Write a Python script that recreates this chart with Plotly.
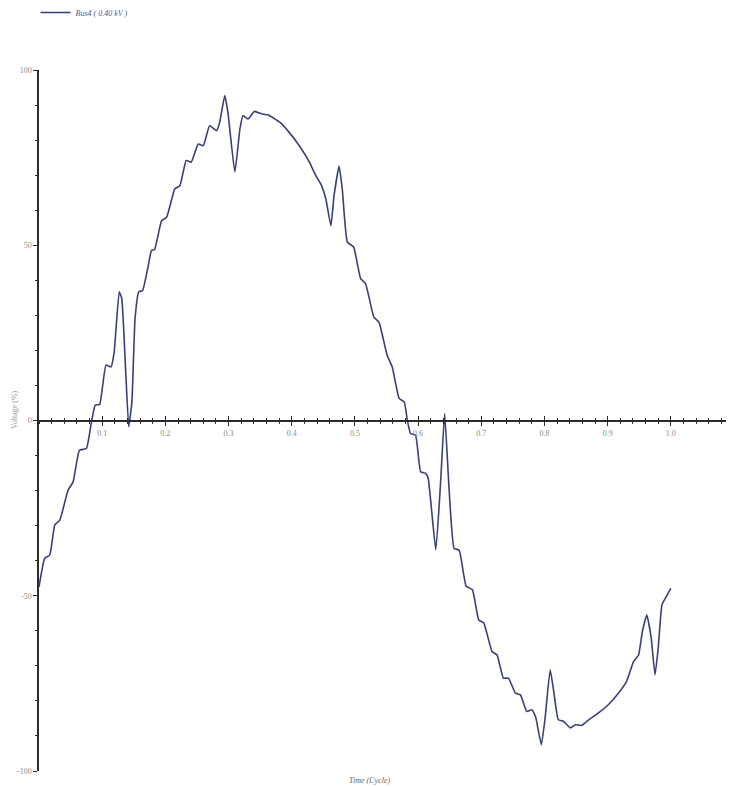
import plotly.graph_objects as go

# Waveform samples (time in cycles, voltage in %)
time_cycle = [0.000, 0.009, 0.017, 0.025, 0.033, 0.046, 0.054, 0.064, 0.075, 0.083,
              0.089, 0.096, 0.106, 0.114, 0.119, 0.127, 0.131, 0.137, 0.142, 0.147,
              0.152, 0.158, 0.164, 0.172, 0.178, 0.183, 0.194, 0.202, 0.215, 0.223,
              0.233, 0.241, 0.252, 0.260, 0.270, 0.281, 0.286, 0.294, 0.299, 0.310,
              0.318, 0.323, 0.331, 0.341, 0.352, 0.362, 0.381, 0.396, 0.412, 0.428,
              0.438, 0.446, 0.454, 0.462, 0.467, 0.475, 0.480, 0.488, 0.498, 0.509,
              0.517, 0.530, 0.538, 0.551, 0.559, 0.570, 0.578, 0.583, 0.588, 0.596,
              0.604, 0.612, 0.616, 0.628, 0.636, 0.642, 0.649, 0.657, 0.665, 0.676,
              0.686, 0.696, 0.704, 0.717, 0.725, 0.735, 0.743, 0.754, 0.762, 0.772,
              0.780, 0.786, 0.795, 0.801, 0.809, 0.814, 0.822, 0.830, 0.841, 0.849,
              0.859, 0.870, 0.885, 0.901, 0.917, 0.930, 0.941, 0.949, 0.955, 0.962,
              0.969, 0.975, 0.980, 0.986, 0.993, 1.000]
voltage_pct = [-47.5, -39.3, -38.4, -29.8, -28.4, -19.9, -17.5, -8.5, -8.0, -0.4,
               4.4, 4.6, 15.8, 15.3, 19.6, 36.7, 34.8, 14.8, -1.8, 5.3,
               29.0, 36.7, 37.1, 43.3, 48.5, 48.8, 57.0, 58.0, 66.1, 67.0,
               74.2, 73.7, 78.9, 78.4, 84.1, 82.7, 85.1, 92.7, 87.9, 70.9,
               83.2, 87.0, 86.0, 88.2, 87.5, 87.2, 85.1, 82.2, 78.4, 73.7,
               69.9, 67.5, 63.2, 55.6, 64.2, 72.6, 66.1, 50.9, 49.5, 40.5,
               39.0, 29.5, 28.1, 18.6, 15.3, 6.3, 5.3, 0.1, -3.7, -4.2,
               -14.6, -15.1, -16.5, -36.9, -16.5, 2.0, -19.4, -36.5, -37.0, -47.2,
               -48.3, -56.9, -57.8, -65.9, -66.9, -73.5, -73.5, -77.8, -78.3, -83.0,
               -82.5, -84.5, -92.5, -84.9, -71.1, -76.4, -85.4, -85.8, -87.7, -86.8,
               -87.0, -85.4, -83.5, -81.1, -77.8, -74.4, -68.8, -66.9, -60.2, -55.5,
               -62.1, -72.6, -65.0, -52.6, -50.2, -47.9]

x_tick_vals = [0.1, 0.2, 0.3, 0.4, 0.5, 0.6, 0.7, 0.8, 0.9, 1.0, 1.1]
x_tick_text = ["0.1", "0.2", "0.3", "0.4", "0.5", "0.6", "0.7", "0.8", "0.9", "1.0", "1.1"]
y_tick_vals = [-100, -50, 0, 50, 100]
y_tick_text = ["-100", "-50", "0", "50", "100"]

series_name = "Bus4 ( 0.40 kV )"
line_color = "#3b3f78"
axis_color = "#2b2b2b"
label_color = "#8a8a8a"
font_family = "Liberation Serif"

fig = go.Figure()
fig.add_trace(go.Scatter(
    x=time_cycle, y=voltage_pct, mode="lines", name=series_name,
    line=dict(color=line_color, width=1.6, shape="spline", smoothing=0.4),
    showlegend=True,
))
# invisible helper trace on overlaying axis so the second tick set is drawn
fig.add_trace(go.Scatter(x=[0], y=[0], xaxis="x2", mode="markers",
                         marker=dict(opacity=0), showlegend=False, hoverinfo="skip"))

# the page body has an 8px margin, so the figure is sized/offset to compensate
fig.update_layout(
    width=726, height=779,
    margin=dict(l=31, r=0, t=62, b=16, autoexpand=False),
    paper_bgcolor="white", plot_bgcolor="white",
    font=dict(family=font_family, size=8, color=label_color),
    showlegend=True,
    legend=dict(x=-0.005, y=1.082, xanchor="left", yanchor="middle",
                font=dict(family=font_family, size=8, color="#4a5aa0", style="italic"),
                bgcolor="rgba(0,0,0,0)", itemwidth=30),
    xaxis=dict(
        range=[0, 1.1], anchor="free", position=0.5, automargin=False,
        showgrid=False, zeroline=False,
        showline=True, linecolor=axis_color, linewidth=1.5,
        tickmode="array", tickvals=x_tick_vals, ticktext=x_tick_text,
        ticks="outside", ticklen=5, tickwidth=1.2, tickcolor=axis_color,
        minor=dict(dtick=0.02, tick0=0, ticks="outside", ticklen=3,
                   tickwidth=1.2, tickcolor=axis_color),
        tickfont=dict(family=font_family, size=8, color=label_color),
    ),
    xaxis2=dict(
        range=[0, 1.1], overlaying="x", anchor="free", position=0.5, automargin=False,
        showgrid=False, zeroline=False, showline=False,
        tickmode="array", tickvals=x_tick_vals, showticklabels=False,
        ticks="inside", ticklen=5, tickwidth=1.2, tickcolor=axis_color,
        minor=dict(dtick=0.02, tick0=0, ticks="inside", ticklen=3,
                   tickwidth=1.2, tickcolor=axis_color),
        side="bottom",
    ),
    yaxis=dict(
        range=[-100, 100], showgrid=False, zeroline=False, automargin=False,
        showline=True, linecolor=axis_color, linewidth=1.5,
        tickmode="array", tickvals=y_tick_vals, ticktext=y_tick_text,
        ticks="outside", ticklen=4, tickwidth=1.2, tickcolor=axis_color,
        minor=dict(dtick=10, tick0=0, ticks="outside", ticklen=2,
                   tickwidth=1.2, tickcolor=axis_color),
        tickfont=dict(family=font_family, size=8, color=label_color),
    ),
    annotations=[
        dict(text="Time (Cycle)", xref="paper", yref="paper", x=0.476, y=0,
             yanchor="top", xanchor="center", yshift=-3, showarrow=False,
             font=dict(family=font_family, size=8, color="#666666", style="italic")),
        dict(text="Voltage (%)", xref="paper", yref="paper", x=-0.0345, y=0.515,
             xanchor="center", yanchor="middle",
             textangle=-90, showarrow=False,
             font=dict(family=font_family, size=8, color="#999999")),
    ],
)

fig.write_html("out.html")
